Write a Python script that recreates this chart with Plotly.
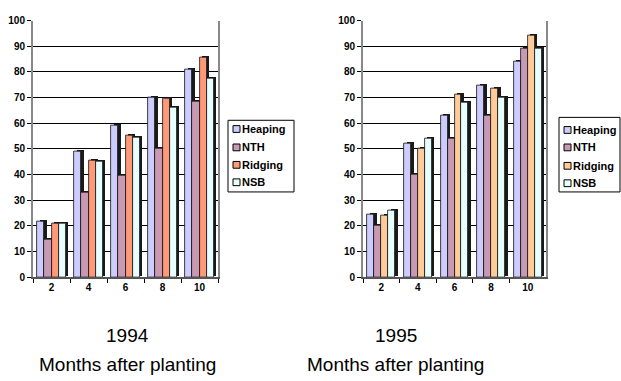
import plotly.graph_objects as go

months = ["2", "4", "6", "8", "10"]
series = ["Heaping", "NTH", "Ridging", "NSB"]
y1994 = {
    "Heaping": [21.5, 49, 59, 70, 81],
    "NTH": [14.5, 33, 39.5, 50, 68.5],
    "Ridging": [21, 45.5, 55, 69.5, 85.5],
    "NSB": [21, 45, 54.5, 66, 77.5],
}
y1995 = {
    "Heaping": [24.5, 52, 63, 74.5, 84],
    "NTH": [20, 40, 54, 63, 89],
    "Ridging": [24, 50, 71, 73.5, 94],
    "NSB": [26, 54, 68, 70, 89],
}
colors1994 = {"Heaping": "#CCCCFF", "NTH": "#C899B4", "Ridging": "#FF9977", "NSB": "#E8FFFF"}
colors1995 = {"Heaping": "#CCCCFF", "NTH": "#C899B4", "Ridging": "#FFCC99", "NSB": "#E8FFFF"}

fig = go.Figure()
W = 0.19
offsets = [-0.38, -0.19, 0.0, 0.19]

def add_chart(data, colors, xa, ya):
    for i, s in enumerate(series):
        # depth (3D shading)
        fig.add_trace(go.Bar(
            x=months, y=data[s], base=0.8, offset=offsets[i] + 0.07, width=W,
            marker=dict(color="#1a1a1a", line=dict(width=0)),
            xaxis=xa, yaxis=ya, showlegend=False, hoverinfo="skip"))
    for i, s in enumerate(series):
        fig.add_trace(go.Bar(
            x=months, y=data[s], name=s, offset=offsets[i], width=W,
            marker=dict(color=colors[s], line=dict(color="#111", width=0.8)),
            xaxis=xa, yaxis=ya, showlegend=False))

add_chart(y1994, colors1994, "x", "y")
add_chart(y1995, colors1995, "x2", "y2")

tickfont = dict(family="Liberation Sans, Arial", size=10, color="#000", weight="bold")
yax = dict(range=[0, 100], dtick=10, showgrid=True, gridcolor="#000", gridwidth=1,
           showline=True, linecolor="#888", linewidth=2, mirror=True,
           ticks="outside", ticklen=4, tickcolor="#000", tickfont=tickfont,
           zeroline=False, fixedrange=True)
xax = dict(type="category", tickson="boundaries", ticks="outside", ticklen=4,
           tickcolor="#000", showline=True, linecolor="#555", linewidth=2,
           tickfont=tickfont, showgrid=False, fixedrange=True)

fig.update_layout(
    width=621, height=381, margin=dict(l=0, r=0, t=0, b=0),
    paper_bgcolor="white", plot_bgcolor="white",
    barmode="overlay", bargap=0, showlegend=False,
    xaxis=dict(domain=[33/621, 218/621], anchor="y", **xax),
    yaxis=dict(domain=[101/381, 366/381], anchor="x", **yax),
    xaxis2=dict(domain=[363/621, 546/621], anchor="y2", **xax),
    yaxis2=dict(domain=[101/381, 366/381], anchor="x2", **yax),
)

# manual legends (Excel-style)
H = 381.0
def px(x): return x / 621.0
def py(y): return (H - y) / H

legend_font = dict(family="Liberation Sans, Arial", size=11, color="#000", weight="bold")
def add_legend(box, sym_x, text_x, centers, colors):
    x0, y0, x1, y1 = box
    fig.add_shape(type="rect", xref="paper", yref="paper",
                  x0=px(x0), x1=px(x1), y0=py(y1), y1=py(y0),
                  line=dict(color="#000", width=1), fillcolor="white")
    for s, cy in zip(series, centers):
        fig.add_shape(type="rect", xref="paper", yref="paper",
                      x0=px(sym_x), x1=px(sym_x + 7), y0=py(cy + 3.5), y1=py(cy - 3.5),
                      line=dict(color="#000", width=1), fillcolor=colors[s])
        fig.add_annotation(x=px(text_x), y=py(cy), xref="paper", yref="paper",
                           text=s, showarrow=False, xanchor="left", yanchor="middle",
                           font=legend_font, xshift=-1)

add_legend((228, 118, 294, 192), 233, 241, [127, 146, 164, 182], colors1994)
add_legend((559, 115, 620, 192), 564, 572, [128, 146, 165, 183], colors1995)

title_font = dict(family="Liberation Sans, Arial", size=19, color="#000")
for cx, txt in [(127, "1994"), (396, "1995")]:
    fig.add_annotation(x=px(cx), y=py(340), xref="paper", yref="paper",
                       text=txt, showarrow=False, font=title_font,
                       xanchor="center", yanchor="middle")
    fig.add_annotation(x=px(cx), y=py(370), xref="paper", yref="paper",
                       text="Months after planting", showarrow=False, font=title_font,
                       xanchor="center", yanchor="middle")

fig.write_html("out.html")
